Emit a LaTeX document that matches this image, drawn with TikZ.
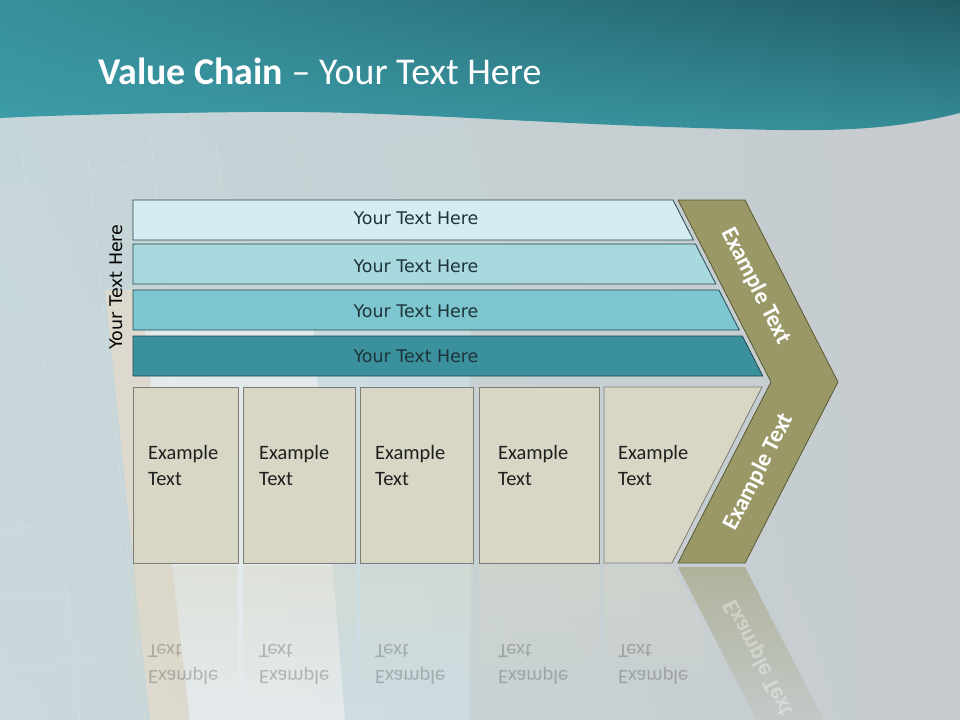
\documentclass[tikz,border=0pt]{standalone}
\usepackage{fontspec}
\setmainfont{Carlito}
\newfontfamily\barfont{DejaVu Sans}
\usetikzlibrary{fadings,shadings}

\definecolor{bgA}{HTML}{C4D5D8}
\definecolor{bgB}{HTML}{C6CBCE}
\definecolor{headL}{HTML}{3C9DA8}
\definecolor{headR}{HTML}{215C66}
\definecolor{barA}{HTML}{D6ECF1}
\definecolor{barB}{HTML}{A9D9DF}
\definecolor{barC}{HTML}{7DC6D0}
\definecolor{barD}{HTML}{3A909C}
\definecolor{barline}{HTML}{1F4A50}
\definecolor{bartxt}{HTML}{1E3439}
\definecolor{boxfill}{HTML}{D8D7C5}
\definecolor{boxline}{HTML}{7D7D75}
\definecolor{chevfill}{HTML}{999866}
\definecolor{chevline}{HTML}{595934}

\tikzset{
  bartext/.style={font=\barfont\fontsize{17.5}{20}\selectfont, text=bartxt, inner sep=0pt},
  boxtext/.style={font=\fontsize{20.5}{26}\selectfont, text=black!88, align=left, inner sep=0pt, anchor=north west},
  refltext/.style={boxtext, yscale=-1, transform shape, opacity=0.25},
  chevtext/.style={font=\bfseries\fontsize{23.5}{26}\selectfont, text=white, inner sep=0pt},
  boxshape/.style={fill=boxfill, draw=boxline, line width=0.8bp},
  barshape/.style={draw=barline, line width=0.8bp},
}

\begin{document}
\begin{tikzpicture}[x=1bp, y=-1bp]
  \useasboundingbox (0,0) rectangle (960,720);

  % Background
  \shade[upper left=bgA, lower left=bgA!90!white, upper right=bgB, lower right=bgB] (0,0) rectangle (960,720);
  \foreach \gx in {20,85,150,215} {
    \draw[white, opacity=0.12, line width=1bp] (\gx,130) -- (\gx+60,720);
  }
  \foreach \gy in {180,250,320,390,460,530,600,670} {
    \draw[white, opacity=0.12, line width=1bp] (0,\gy) -- (240,\gy-25);
  }
  \fill[orange!25!white, opacity=0.4] (105,290) -- (140,290) -- (190,720) -- (150,720) -- cycle;
  \fill[white, opacity=0.5] (140,290) -- (310,290) -- (345,720) -- (190,720) -- cycle;
  \fill[cyan!15!white, opacity=0.3] (310,300) -- (470,300) -- (470,720) -- (345,720) -- cycle;

  % Header band
  \shade[upper left=headL!80!headR, upper right=headR, lower left=headL, lower right=headL!75!headR]
    (0,0) -- (960,0) -- (960,113) .. controls (900,128) and (850,131) .. (780,130)
    .. controls (550,126) and (400,110) .. (250,112) .. controls (150,113) and (60,115) .. (0,118) -- cycle;
  \node[anchor=base west, inner sep=0pt, text=white, font=\fontsize{38}{42}\selectfont] (title) at (98,85)
    {\textbf{Value Chain} -- Your Text Here};

  % Side label
  \node[bartext, text=black, rotate=90] (side) at (116,287) {Your Text Here};

  % Top bars
  \foreach \yt/\ty/\col [count=\k] in {200/218/barA,244/266/barB,290/311/barC,336/356/barD} {
    \pgfmathsetmacro\yb{\yt+40}
    \filldraw[barshape, fill=\col] (133,\yt) -- ({673+0.51*(\yt-200)},\yt)
      -- ({673+0.51*(\yb-200)},\yb) -- (133,\yb) -- cycle;
    \node[bartext] (bar\k) at (416,\ty) {Your Text Here};
  }

  % Bottom boxes
  \foreach \xl/\xr/\xt [count=\k] in {133/238/148,243/355/259,360/473/375,479/599/498} {
    \filldraw[boxshape] (\xl,387) rectangle (\xr,563);
    \node[boxtext] (ex\k) at (\xt,445) {Example\\Text};
  }
  \filldraw[boxshape] (604,387) -- (762,387) -- (672,563) -- (604,563) -- cycle;
  \node[boxtext] (ex5) at (618,445) {Example\\Text};

  % Chevron
  \filldraw[fill=chevfill, draw=chevline, line width=0.8bp]
    (678,200) -- (745,200) -- (838,382) -- (745,563) -- (678,563) -- (771,382) -- cycle;
  \node[chevtext, rotate=-63] (chevup) at (756,286) {Example Text};
  \node[chevtext, rotate=63] (chevdown) at (759,472) {Example Text};

  % Reflections
  \foreach \xl/\xr/\xt [count=\k] in {133/238/148,243/355/259,360/473/375,479/599/498} {
    \fill[boxfill, opacity=0.45, path fading=south] (\xl,566) rectangle (\xr,705);
    \node[refltext] (rex\k) at (\xt,685) {Example\\Text};
  }
  \fill[boxfill, opacity=0.45, path fading=south] (604,566) -- (672,566) -- (705,630) -- (705,705) -- (604,705) -- cycle;
  \node[refltext] (rex5) at (618,685) {Example\\Text};
  \fill[chevfill, opacity=0.5, path fading=south] (678,567) -- (745,567) -- (838,748) -- (771,748) -- cycle;
  \node[chevtext, yscale=-1, transform shape, rotate=63, opacity=0.35] (rchev) at (759,658) {Example Text};
\end{tikzpicture}
\end{document}
